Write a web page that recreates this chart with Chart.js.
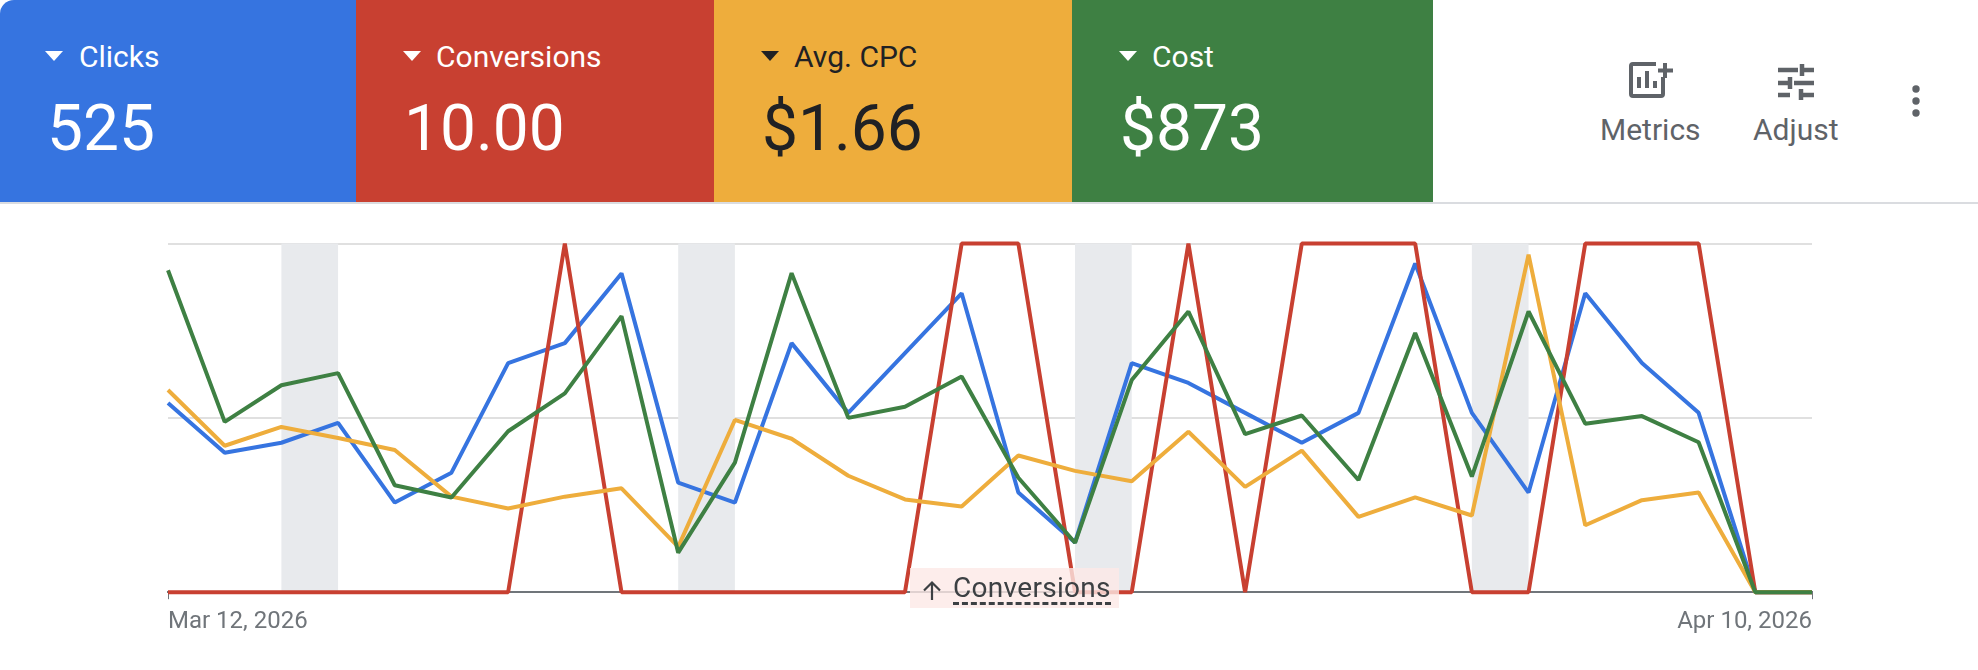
<!DOCTYPE html>
<html>
<head>
<meta charset="utf-8">
<title>Performance chart</title>
<script src="https://cdn.jsdelivr.net/npm/chart.js@4/dist/chart.umd.min.js"></script>
<style>
html, body { margin: 0; padding: 0; background: #fff; }
body { width: 1978px; height: 670px; position: relative; overflow: hidden; font-family: Roboto, sans-serif; }
#header { position: absolute; left: 0; top: 0; width: 1978px; height: 202px; border-bottom: 2px solid #dadce0; border-radius: 14px 14px 0 0; overflow: hidden; }
.tile { position: absolute; top: 0; height: 202px; color: #fff; }
.tile .arrow { position: absolute; left: 47px; top: 51px; width: 0; height: 0; border-left: 9px solid transparent; border-right: 9px solid transparent; border-top: 10px solid currentColor; }
.tile .name { position: absolute; left: 80px; top: 40px; font-size: 30px; line-height: 34px; white-space: nowrap; }
.tile .value { position: absolute; left: 48px; top: 91px; font-size: 64px; line-height: 76px; white-space: nowrap; }
.tile.first .arrow { left: 45px; }
.tile.first .name { left: 79px; }
.tile.first .value { left: 47px; }
.tool { position: absolute; color: #5f6368; font-size: 30px; line-height: 30px; white-space: nowrap; }
svg { position: absolute; }
#wrap { position: absolute; left: 0; top: 204px; width: 1978px; height: 466px; }
#chip { position: absolute; left: 910px; top: 568px; width: 209px; height: 40px; background: rgba(252, 232, 230, 0.8); color: #3c4043; }
#chip span { position: absolute; left: 43px; top: 5px; font-size: 28px; line-height: 30px; letter-spacing: 0.3px; border-bottom: 3px dashed #3c4043; white-space: nowrap; height: 29px; }
</style>
</head>
<body>
<div id="wrap"><canvas id="perf"></canvas></div>

<div id="header">
  <div class="tile first" style="left:0;width:356px;background:#3674e0"><div class="arrow"></div><div class="name">Clicks</div><div class="value">525</div></div>
  <div class="tile" style="left:356px;width:358px;background:#c84031"><div class="arrow"></div><div class="name">Conversions</div><div class="value">10.00</div></div>
  <div class="tile" style="left:714px;width:358px;background:#eead3c;color:#202124"><div class="arrow"></div><div class="name">Avg. CPC</div><div class="value">$1.66</div></div>
  <div class="tile" style="left:1072px;width:361px;background:#3e8043"><div class="arrow"></div><div class="name">Cost</div><div class="value">$873</div></div>

  <svg style="left:1628px;top:60px" width="46" height="40" viewBox="0 0 46 40" fill="none" stroke="#5f6368">
    <path d="M28 4H5a2 2 0 0 0-2 2V34a2 2 0 0 0 2 2h28a2 2 0 0 0 2-2V17" stroke-width="4"/>
    <path d="M11 17v11M19 11v17M27 21v7" stroke-width="4"/>
    <path d="M37 3v15M30 10.500h15" stroke-width="4"/>
  </svg>
  <div class="tool" style="left:1600px;top:115px">Metrics</div>

  <svg style="left:1776px;top:62px" width="40" height="38" viewBox="0 0 40 38" fill="none" stroke="#5f6368" stroke-width="4.500">
    <path d="M2 8h20M27 8h11M26 2v12"/>
    <path d="M2 21h11M18 21h20M14 15v12"/>
    <path d="M2 33h12M24 33h14M25 27v11"/>
  </svg>
  <div class="tool" style="left:1753px;top:115px">Adjust</div>

  <svg style="left:1908px;top:84px" width="16" height="34" viewBox="0 0 16 34" fill="#5f6368">
    <circle cx="8" cy="5" r="3.700"/><circle cx="8" cy="17" r="3.700"/><circle cx="8" cy="29" r="3.700"/>
  </svg>
</div>

<div id="chip">
  <svg style="left:11px;top:12px" width="22" height="22" viewBox="0 0 22 22" fill="none" stroke="#3c4043" stroke-width="2.200"><path d="M11 20V3M3 10.500L11 2.500L19 10.500"/></svg>
  <span>Conversions</span>
</div>

<script>
var dates = ['Mar 12, 2026','Mar 13, 2026','Mar 14, 2026','Mar 15, 2026','Mar 16, 2026','Mar 17, 2026','Mar 18, 2026','Mar 19, 2026','Mar 20, 2026','Mar 21, 2026',
    'Mar 22, 2026','Mar 23, 2026','Mar 24, 2026','Mar 25, 2026','Mar 26, 2026','Mar 27, 2026','Mar 28, 2026','Mar 29, 2026','Mar 30, 2026','Mar 31, 2026',
    'Apr 1, 2026','Apr 2, 2026','Apr 3, 2026','Apr 4, 2026','Apr 5, 2026','Apr 6, 2026','Apr 7, 2026','Apr 8, 2026','Apr 9, 2026','Apr 10, 2026']
var clicks = [19,14,15,17,9,12,23,25,32,11,9,25,18,24,30,10,5,23,21,18,15,18,33,18,10,30,23,18,0,0]
var conversions = [0,0,0,0,0,0,0,1,0,0,0,0,0,0,1,1,0,0,1,0,1,1,1,0,0,1,1,1,0,0]
var avgCpc = [2.90,2.10,2.37,2.21,2.04,1.37,1.20,1.37,1.49,0.65,2.47,2.20,1.67,1.33,1.23,1.96,1.74,1.59,2.30,1.51,2.03,1.08,1.36,1.10,4.84,0.96,1.32,1.43,0,0]
var cost = [55.4,29.3,35.6,37.7,18.4,16.3,27.7,34.2,47.5,6.8,22.3,54.9,30.0,31.9,37.1,19.7,8.5,36.5,48.3,27.2,30.4,19.3,44.6,19.9,48.3,29.0,30.3,25.8,0,0]
// each band runs from the saturday to the sunday
var weekends = [['Mar 14, 2026','Mar 15, 2026'],['Mar 21, 2026','Mar 22, 2026'],['Mar 28, 2026','Mar 29, 2026'],['Apr 4, 2026','Apr 5, 2026']]

var weekendBands = {
    id: 'weekendBands',
    beforeDatasetsDraw: function(chart){
        var x = chart.scales.x, area = chart.chartArea, ctx = chart.ctx
        ctx.save()
        ctx.fillStyle = '#e8eaed'
        weekends.forEach(function(w){
            var from = x.getPixelForValue(dates.indexOf(w[0]))
            var to = x.getPixelForValue(dates.indexOf(w[1]))
            ctx.fillRect(from, area.top, to - from, area.bottom - area.top)
        })
        ctx.restore()
    }
}

var lineSet = function(label, data, color, axis){
    return {
        label: label,
        data: data,
        yAxisID: axis,
        borderColor: color,
        borderWidth: 4,
        pointRadius: 0,
        tension: 0,
        fill: false,
        clip: false,
        borderJoinStyle: 'bevel'
    }
}

var hiddenAxis = function(max){
    return { display: false, min: 0, max: max }
}

var perfChart = new Chart(document.getElementById('perf').getContext('2d'), {
    type: 'line',
    data: {
        labels: dates,
        datasets: [
            Object.assign(lineSet('Clicks', clicks, '#3674e0', 'yClicks'), { order: 4 }),
            Object.assign(lineSet('Conversions', conversions, '#c84031', 'yConv'), { order: 3 }),
            Object.assign(lineSet('Avg. CPC', avgCpc, '#eead3c', 'yCpc'), { order: 2 }),
            Object.assign(lineSet('Cost', cost, '#3e8043', 'yCost'), { order: 1 })
        ]
    },
    options: {
        responsive: true,
        maintainAspectRatio: false,
        animation: false,
        layout: { padding: { left: 168, right: 166, top: 39.5, bottom: 26 } },
        plugins: { legend: { display: false }, tooltip: { enabled: false } },
        scales: {
            x: {
                offset: false,
                border: { color: '#70757a', width: 2 },
                grid: {
                    drawOnChartArea: false,
                    tickLength: 7,
                    tickColor: function(c){ return (c.index === 0 || c.index === dates.length - 1) ? '#70757a' : 'transparent' }
                },
                ticks: {
                    autoSkip: false,
                    maxRotation: 0,
                    align: 'inner',
                    padding: 8,
                    color: '#70757a',
                    font: { family: 'Roboto', size: 24 },
                    callback: function(v, i){ return (i === 0 || i === dates.length - 1) ? dates[i] : '' }
                }
            },
            yClicks: {
                min: 0,
                max: 35,
                border: { display: false },
                grid: { color: '#e0e0e0', lineWidth: 2, drawTicks: false },
                ticks: { display: false, stepSize: 17.5 }
            },
            yConv: hiddenAxis(1),
            yCpc: hiddenAxis(5),
            yCost: hiddenAxis(60)
        }
    },
    plugins: [weekendBands]
})
</script>
</body>
</html>
